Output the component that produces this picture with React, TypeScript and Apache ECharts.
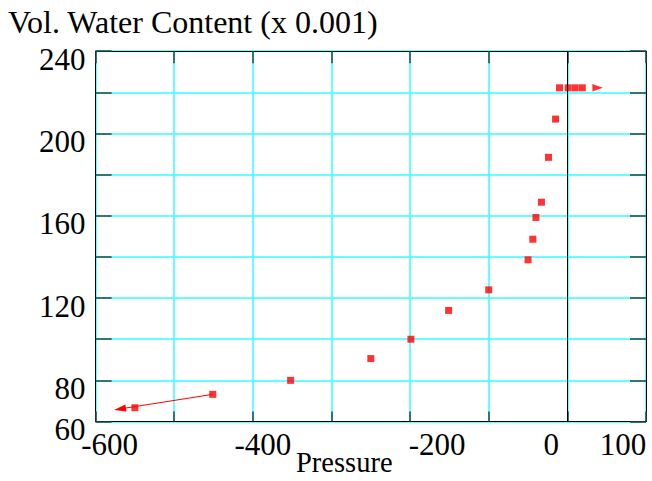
import React, { useEffect, useRef } from "react";
import * as echarts from "echarts";

// Measured soil-water retention points: pressure vs volumetric water content (x 0.001)
const pressure = [-550, -451, -352, -250, -199, -151, -100, -50, -44, -40, -33, -24, -15, -10, 1, 10, 19];
const waterContent = [66.7, 73.2, 80, 90.6, 100, 114, 124, 138.6, 148.6, 159.2, 166.6, 188.4, 207, 222.2, 222.2, 222.2, 222.2];

// Off-scale arrows: one leaving to the left, one pointing right at the saturated end
const leftArrowFrom = [-451, 73.2];
const leftArrowTo = [-569, 66.1];
const rightArrowAt = [38.5, 222.2];

const xTickLabels = [-600, -400, -200, 0, 100];
const yTickLabels = [240, 200, 160, 120, 80, 60];

// Horizontal nudges (px) of the x tick labels
const xLabelShift: Record<string, number> = { "-600": 14, "-400": 10, "-200": 27, "0": -16, "100": -23 };

const FONT = "Liberation Serif";
const GRID = "#33ffff";
const TICK = "#1d4a4a";

export default function App() {
  const ref = useRef<HTMLDivElement>(null);

  useEffect(() => {
    if (!ref.current) return;
    const chart = echarts.init(ref.current, null, { renderer: "svg" });

    const xRich: Record<string, any> = {};
    xTickLabels.forEach((v, i) => {
      const s = xLabelShift[String(v)] || 0;
      xRich["s" + i] = {
        fontSize: 31,
        fontFamily: FONT,
        color: "#000",
        padding: s >= 0 ? [0, 0, 0, 2 * s] : [0, -2 * s, 0, 0],
      };
    });

    const points = pressure.map((p, i) => [p, waterContent[i]]);

    chart.setOption({
      animation: false,
      backgroundColor: "#fff",
      title: [
        {
          text: "{t|Vol. Water Content (x 0.001)}",
          left: 3,
          top: 1,
          textStyle: {
            fontFamily: FONT,
            fontSize: 32,
            fontWeight: "normal",
            color: "#000",
            rich: { t: { fontFamily: FONT, fontSize: 32, color: "#000" } },
          },
        },
        {
          text: "{p|Pressure}",
          left: 291,
          top: 443,
          textStyle: {
            fontFamily: FONT,
            fontSize: 28.5,
            fontWeight: "normal",
            color: "#000",
            rich: { p: { fontFamily: FONT, fontSize: 28.5, color: "#000" } },
          },
        },
      ],
      grid: {
        left: 95.6,
        right: 6,
        top: 51.2,
        bottom: 59.5,
        outerBoundsMode: "none",
        containLabel: false,
      },
      xAxis: [
        {
          type: "value",
          min: -600,
          max: 100,
          interval: 100,
          position: "bottom",
          axisLine: { show: true, onZero: false, lineStyle: { color: "#000", width: 1 } },
          axisTick: { show: true, inside: true, length: 10, lineStyle: { color: TICK, width: 1.5 } },
          splitLine: { show: true, lineStyle: { color: GRID, width: 1.5 } },
          axisLabel: {
            show: true,
            interval: 0,
            margin: 23,
            verticalAlign: "middle",
            fontSize: 31,
            fontFamily: FONT,
            color: "#000",
            rich: xRich,
            formatter: (v: number) => {
              const i = xTickLabels.indexOf(v);
              return i >= 0 ? `{s${i}|${v}}` : "";
            },
          },
        },
        {
          type: "value",
          min: -600,
          max: 100,
          interval: 100,
          position: "top",
          axisLine: { show: true, onZero: false, lineStyle: { color: "#000", width: 1 } },
          axisTick: { show: true, inside: true, length: 12, lineStyle: { color: TICK, width: 1.5 } },
          splitLine: { show: false },
          axisLabel: { show: false },
        },
      ],
      yAxis: [
        {
          type: "value",
          min: 60,
          max: 240,
          interval: 20,
          position: "left",
          axisLine: { show: true, onZero: false, lineStyle: { color: "#000", width: 1 } },
          axisTick: { show: true, inside: true, length: 16, lineStyle: { color: TICK, width: 1.5 } },
          splitLine: { show: true, lineStyle: { color: GRID, width: 1.5 } },
          axisLabel: {
            show: true,
            interval: 0,
            margin: 10,
            fontSize: 31,
            fontFamily: FONT,
            color: "#000",
            rich: {
              y: { fontSize: 31, fontFamily: FONT, color: "#000", padding: [16, 0, 0, 0] },
            },
            formatter: (v: number) => (yTickLabels.includes(v) ? `{y|${v}}` : ""),
          },
        },
        {
          type: "value",
          min: 60,
          max: 240,
          interval: 20,
          position: "right",
          axisLine: { show: true, onZero: false, lineStyle: { color: "#000", width: 1 } },
          axisTick: { show: true, inside: true, length: 16, lineStyle: { color: TICK, width: 1.5 } },
          splitLine: { show: false },
          axisLabel: { show: false },
        },
      ],
      series: [
        {
          // zero-pressure reference line
          type: "line",
          data: [],
          z: 1,
          silent: true,
          markLine: {
            silent: true,
            symbol: "none",
            label: { show: false },
            lineStyle: { color: "#000", width: 1, type: "solid" },
            data: [{ xAxis: 0 }],
          },
        },
        {
          type: "line",
          data: [],
          z: 2,
          silent: true,
          markLine: {
            silent: true,
            label: { show: false },
            lineStyle: { color: "#ff0000", width: 1, type: "solid" },
            symbol: ["none", "triangle"],
            symbolSize: [7, 12],
            data: [[{ coord: leftArrowFrom }, { coord: leftArrowTo }]],
          },
        },
        {
          type: "scatter",
          data: points,
          z: 3,
          symbol: "rect",
          symbolSize: 7,
          itemStyle: { color: "#ff0000" },
        },
        {
          type: "scatter",
          data: [rightArrowAt],
          z: 3,
          symbol: "triangle",
          symbolRotate: -90,
          symbolSize: [7.5, 10.5],
          itemStyle: { color: "#ff0000" },
        },
      ],
    });

    return () => chart.dispose();
  }, []);

  return (
    <div
      ref={ref}
      style={{ position: "fixed", left: 0, top: 0, width: 652, height: 481 }}
    />
  );
}
